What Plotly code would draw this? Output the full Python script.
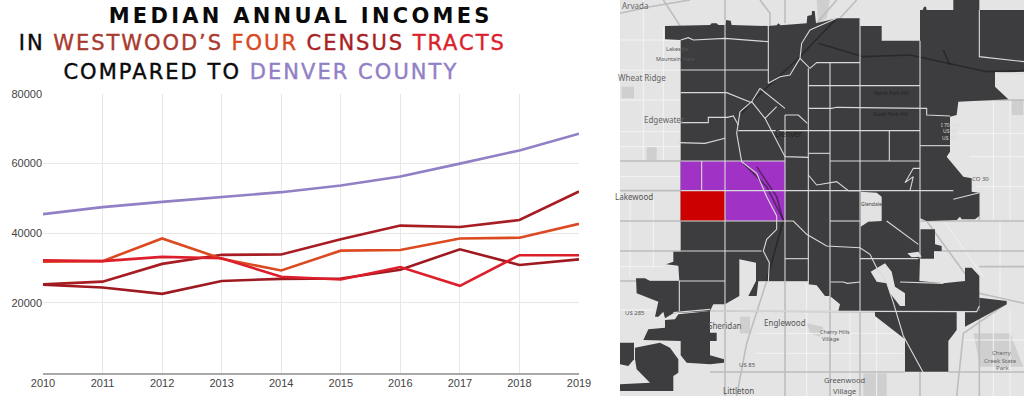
import plotly.graph_objects as go

years = [2010, 2011, 2012, 2013, 2014, 2015, 2016, 2017, 2018, 2019]
denver = [45500, 47500, 49000, 50300, 51800, 53700, 56300, 60000, 63800, 68600]
tract_a = [25300, 26100, 31200, 33800, 33900, 38300, 42200, 41800, 43800, 52000]
tract_b = [31800, 32000, 38500, 32700, 29300, 35000, 35200, 38500, 38700, 42700]
tract_c = [25200, 24400, 22600, 26300, 26900, 27000, 29500, 35400, 30900, 32500]
tract_d = [32200, 32000, 33200, 32800, 27500, 26700, 30300, 24900, 33700, 33700]
y_ticks = [20000, 40000, 60000, 80000]

# Map geometry, in map units
map_frame = [(30, 0), (1242, 0), (1242, 1188), (30, 1188)]
main_area = [(165,78),(300,75),(305,70),(320,70),(325,75),(345,75),(348,60),(362,62),(365,75),(475,78),(500,76),(505,70),(512,76),
    (590,70),(592,48),(605,45),(606,33),(614,33),(618,70),(680,55),(750,55),(750,78),(815,78),(815,122),(930,122),(930,30),(938,30),(942,20),(948,20),(950,30),
    (1030,30),(1030,0),(1108,0),(1108,30),(1242,30),(1242,215),(1155,218),(1155,260),(1195,298),(1045,305),(1040,345),(1020,350),
    (1020,455),(1010,470),(1060,530),(1085,535),(1085,575),(1108,578),(1108,648),(1095,658),(1055,658),(1050,650),(1040,660),
    (950,663),(930,655),(930,688),(975,688),(975,733),(995,738),(995,753),(972,753),(972,776),(930,776),(928,843),(1000,850),
    (1065,843),(1065,803),(1085,803),(1108,828),(1108,933),(1040,936),(1040,990),(1015,1023),(1015,1115),(885,1115),(885,1018),
    (795,948),(795,936),(685,933),(690,913),(660,888),(645,888),(620,856),(595,853),(595,843),(445,843),(440,888),(415,888),
    (438,843),(438,788),(388,778),(388,888),(345,913),(310,913),(300,933),(190,940),(165,955),(160,935),(145,950),(135,950),
    (145,905),(80,880),(78,835),(105,835),(120,843),(208,843),(205,797),(168,793),(190,785),(190,755),(212,755),(212,120),(165,118)]
east_spur = [(1108,893),(1190,903),(1190,913),(1065,980),(1065,936),(1108,933)]
southwest = [(300,933),(300,998),(320,998),(320,1023),(300,1023),(300,1066),(342,1078),(342,1088),(300,1093),(230,1088),(212,1066),
    (212,1023),(100,1020),(115,988),(165,983),(165,960),(195,958),(205,943)]
far_sw_a = [(30,1028),(72,1028),(72,1078),(55,1098),(30,1093)]
far_sw_b = [(75,1043),(150,1028),(180,1043),(205,1078),(205,1118),(190,1128),(190,1173),(30,1173),(30,1153),(120,1148),(80,1108),(75,1078)]
holes = [[(752,575),(800,578),(815,590),(815,663),(775,665),(752,680)],
         [(782,815),(825,790),(845,815),(855,860),(885,880),(885,918),(870,918),(840,880),(830,850),(800,845)],
         [(892,760),(925,755),(935,770),(905,772)]]
westwood_purple = [(212,483),(525,483),(525,663),(345,663),(345,572),(212,572)]
westwood_red = [(212,572),(345,572),(345,663),(212,663)]

highways_under = [
    [(625,130),(760,170),(900,165),(1130,215),(1242,212)], [(680,55),(560,180),(430,300),(395,340)],
    [(400,490),(470,560),(520,660),(470,843)], [(440,500),(500,590),(520,663)], [(1000,150),(1020,195)]]

tract_lines = [
    [(345,60),(345,913)], [(212,120),(235,113),(250,120),(345,115),(475,125)], [(212,210),(475,210)], [(475,78),(475,250)],
    [(212,278),(350,278),(425,308)], [(212,368),(295,368),(295,352),(352,352),(370,348),(385,375)],
    [(205,428),(285,430),(345,415)], [(212,483),(525,483)],
    [(390,335),(380,400),(395,485),(440,520),(470,590),(500,648),(500,688),(470,718),(460,753),(478,788),(475,843)],
    [(475,250),(510,230),(540,225),(570,175),(575,130),(600,90),(680,55)], [(570,175),(600,205),(620,188),(750,188)],
    [(595,205),(595,853)], [(660,188),(660,888)], [(750,55),(750,933)], [(595,257),(930,257)],
    [(595,325),(665,325),(680,322),(950,325),(950,345),(1020,348)], [(930,122),(930,776)], [(385,392),(930,392)],
    [(838,392),(838,483)], [(660,483),(930,483)], [(930,437),(1020,437)], [(525,345),(525,843)],
    [(525,345),(565,345),(592,370)], [(450,265),(425,305),(390,335)], [(450,265),(525,325)], [(500,320),(465,355)],
    [(425,305),(465,355),(525,470),(595,472)], [(595,460),(660,460)],
    [(595,525),(620,555),(680,545),(715,572),(1030,572)], [(900,572),(910,530),(885,548),(910,505),(930,505)],
    [(1030,598),(1108,578)], [(1108,30),(1108,170),(1242,185)], [(1155,218),(1242,220)], [(212,572),(525,572)], [(525,572),(750,572)],
    [(275,483),(275,572)], [(212,663),(550,663),(590,703),(650,738),(750,743),(780,763),(800,803),(830,848),(850,908),(880,1008),(940,1118)],
    [(660,663),(750,663)], [(830,663),(925,733)], [(212,753),(455,753)], [(345,843),(208,843),(208,933)],
    [(525,776),(595,776)], [(662,846),(700,846),(712,850),(750,846)], [(750,776),(925,776)], [(870,846),(1000,850)],
    [(190,938),(300,928)], [(300,933),(1100,935),(1108,918)]]

roads_major = [
    [(30,483),(212,483)], [(30,572),(212,572)], [(930,663),(1242,663)], [(30,663),(212,663)], [(30,753),(212,753)], [(930,753),(1242,753)],
    [(30,843),(208,843)], [(445,843),(660,843)], [(1108,800),(1242,800)], [(300,933),(795,936)], [(300,1116),(885,1116)], [(1015,1116),(1242,1116)],
    [(345,0),(345,60)], [(525,0),(525,70)], [(660,843),(660,1188)], [(525,843),(525,1188)], [(345,913),(345,1188)], [(750,933),(750,1188)],
    [(930,1116),(930,1188)], [(1108,933),(1108,1188)], [(1108,578),(1108,663)], [(160,0),(212,80)], [(520,663),(470,843),(410,1030),(380,1188)],
    [(30,40),(120,20),(240,0)], [(1040,300),(1242,300)], [(1190,910),(1060,1000),(1040,1188)], [(950,663),(1108,880),(1242,910)],
    [(450,0),(480,40),(480,78)], [(620,70),(680,0)], [(690,55),(740,0)]]
roads_minor = [
    [(30,120),(212,120)], [(30,210),(212,210)], [(30,300),(212,300)], [(30,395),(212,395)], [(30,440),(212,440)], [(30,530),(212,530)],
    [(100,0),(100,480)], [(160,80),(160,480)], [(1150,260),(1150,660)], [(1200,300),(1200,660)], [(1045,400),(1242,400)], [(1080,470),(1242,470)],
    [(1100,560),(1242,560)], [(440,1000),(660,1000)], [(440,1060),(880,1060)], [(690,1000),(880,1000)], [(590,850),(590,1188)],
    [(720,933),(720,1188)], [(800,950),(800,1188)], [(1060,1020),(1242,1020)], [(1170,660),(1170,900)], [(30,930),(130,930)], [(1000,660),(1120,830)],
    [(30,800),(160,800)], [(60,600),(60,830)], [(130,600),(130,800)], [(1150,930),(1150,1188)], [(1200,930),(1200,1188)]]
gray_blocks = [[(35,260),(72,260),(72,295),(35,295)], [(110,440),(140,440),(140,480),(110,480)], [(620,0),(660,0),(650,55),(625,70)],
    [(1205,300),(1240,300),(1240,345),(1205,345)], [(1090,1000),(1200,1000),(1240,1100),(1110,1100)], [(760,1120),(830,1120),(830,1188),(760,1188)],
    [(390,950),(420,950),(420,1000),(390,1000)], [(590,970),(640,980),(630,1010),(600,1000)]]

map_labels = [("Arvada",75,17,8,"#666666"),("Lakeside",203,148,5.5,"#555555"),("Mountain View",195,177,5.5,"#555555"),("Wheat Ridge",95,232,8,"#666666"),
    ("Edgewater",163,359,8,"#666666"),("Lakewood",72,590,8,"#555555"),("Denver",538,400,8,"#222222"),("North Park Hill",845,280,5,"#222222"),
    ("South Park Hill",842,342,5,"#222222"),("Sheridan",346,975,8,"#555555"),("Englewood",524,967,8,"#555555"),("Cherry Hills",675,997,5.5,"#555555"),
    ("Village",660,1018,5.5,"#555555"),("Greenwood",702,1141,7.5,"#555555"),("Village",702,1172,7.5,"#555555"),("Littleton",386,1171,8,"#555555"),
    ("US 285",75,939,6,"#555555"),("US 85",413,1095,6,"#555555"),("CO 30",1112,538,6,"#555555"),("I 70 Bus",1020,375,5,"#DDDDDD"),("US 40",1020,394,5,"#DDDDDD"),
    ("US 287",1020,413,5,"#DDDDDD"),("Glendale",785,612,5,"#444444"),("Cherry",1175,1059,6,"#666666"),("Creek State",1172,1082,6,"#666666"),("Park",1178,1105,6,"#666666")]

GRID = "#E7E7E7"
LABEL = "#444444"
fig = go.Figure()

def line_trace(values, color):
    fig.add_trace(go.Scatter(x=years, y=values, mode="lines", line=dict(color=color, width=2.6),
                             hoverinfo="skip", xaxis="x", yaxis="y", cliponaxis=False))

line_trace(denver, "#9180C6")
line_trace(tract_a, "#A71D22")
line_trace(tract_b, "#DC4A22")
line_trace(tract_c, "#9E1A20")
line_trace(tract_d, "#DC1F2B")

def poly(points, color):
    xs = [p[0] for p in points] + [points[0][0]]
    ys = [p[1] for p in points] + [points[0][1]]
    fig.add_trace(go.Scatter(x=xs, y=ys, mode="none", fill="toself", fillcolor=color,
                             hoverinfo="skip", xaxis="x2", yaxis="y2"))

def polylines(lines, color, width):
    xs, ys = [], []
    for line in lines:
        xs += [p[0] for p in line] + [None]
        ys += [p[1] for p in line] + [None]
    fig.add_trace(go.Scatter(x=xs, y=ys, mode="lines", line=dict(color=color, width=width),
                             hoverinfo="skip", xaxis="x2", yaxis="y2"))

poly(map_frame, "#E4E4E4")
for block in gray_blocks:
    poly(block, "#CFCFCF")
polylines(roads_minor, "#F3F3F3", 1)
polylines(roads_major, "#BDBDBD", 1.6)
for area in [main_area, east_spur, southwest, far_sw_a, far_sw_b]:
    poly(area, "#3D3D3F")
for hole in holes:
    poly(hole, "#E2E2E2")
poly(westwood_purple, "#A033C6")
poly(westwood_red, "#CC0000")
polylines(highways_under, "rgba(25,25,28,0.55)", 1.6)
polylines(tract_lines, "#D9D9D9", 1.1)

for m in map_labels:
    fig.add_annotation(text=m[0], x=m[1], y=m[2], xref="x2", yref="y2", showarrow=False,
                       font=dict(family="Noto Sans", size=m[3], color=m[4]), borderpad=0)

title_font = "DejaVu Sans"
def title_line(text, cx, y, weight):
    fig.add_annotation(text=text, xref="paper", yref="paper", x=cx / 1024, y=1 - y / 396, xanchor="center", yanchor="middle",
                       showarrow=False, font=dict(family=title_font, size=21, color="#0A0A0A", weight=weight))

title_line("MEDIAN ANNUAL INCOMES", 300, 15.5, 700)
title_line('IN <span style="color:#A93A2E">WESTWOOD’S</span> <span style="color:#D9481F">FOUR</span> '
           '<span style="color:#A81E24">CENSUS</span> <span style="color:#DB1F2D">TRACTS</span>', 261.5, 43, 400)
title_line('COMPARED TO <span style="color:#9180C6">DENVER COUNTY</span>', 260.5, 72, 400)

fig.update_layout(
    width=1024, height=396, margin=dict(l=0, r=0, t=0, b=0), paper_bgcolor="white", plot_bgcolor="rgba(0,0,0,0)",
    showlegend=False,
    xaxis=dict(domain=[43 / 1024, 579 / 1024], range=[2010, 2019], tickmode="array", tickvals=years, ticktext=[str(y) for y in years],
               showgrid=True, gridcolor=GRID, gridwidth=1, zeroline=False, showline=True, linecolor="#A8A8A8", linewidth=1.5, ticks="",
               automargin=False, tickfont=dict(family="Liberation Sans", size=11, color=LABEL)),
    yaxis=dict(domain=[1 - 372.5 / 396, 1 - 94 / 396], range=[0, 80000], tickmode="array", tickvals=y_ticks, ticktext=[str(v) for v in y_ticks],
               showgrid=True, gridcolor=GRID, gridwidth=1, zeroline=False, showline=False, ticks="",
               automargin=False, tickfont=dict(family="Liberation Sans", size=11, color=LABEL)),
    xaxis2=dict(domain=[620 / 1024, 1], range=[30, 1242], visible=False, anchor="y2", fixedrange=True, automargin=False),
    yaxis2=dict(domain=[0, 1], range=[1188, 0], visible=False, anchor="x2", fixedrange=True, automargin=False),
)

post = """
document.body.style.margin = '0';
document.body.style.overflow = 'hidden';
var targets = {'MEDIAN': 384, 'IN WESTW': 487, 'COMPARED': 395};
document.querySelectorAll('.annotation-text').forEach(function (t) {
  var s = t.textContent;
  Object.keys(targets).forEach(function (k) {
    if (s.indexOf(k) === 0) {
      var w = t.getComputedTextLength();
      t.style.letterSpacing = ((targets[k] - w) / s.length) + 'px';
      if (k !== 'MEDIAN') {
        t.style.stroke = '#0A0A0A';
        t.style.strokeWidth = '0.4px';
        t.querySelectorAll('tspan').forEach(function (p) {
          if (p.style.fill) { p.style.stroke = p.style.fill; }
        });
      }
    }
  });
});
"""
fig.write_html("out.html", post_script=post, config={"displayModeBar": False})
